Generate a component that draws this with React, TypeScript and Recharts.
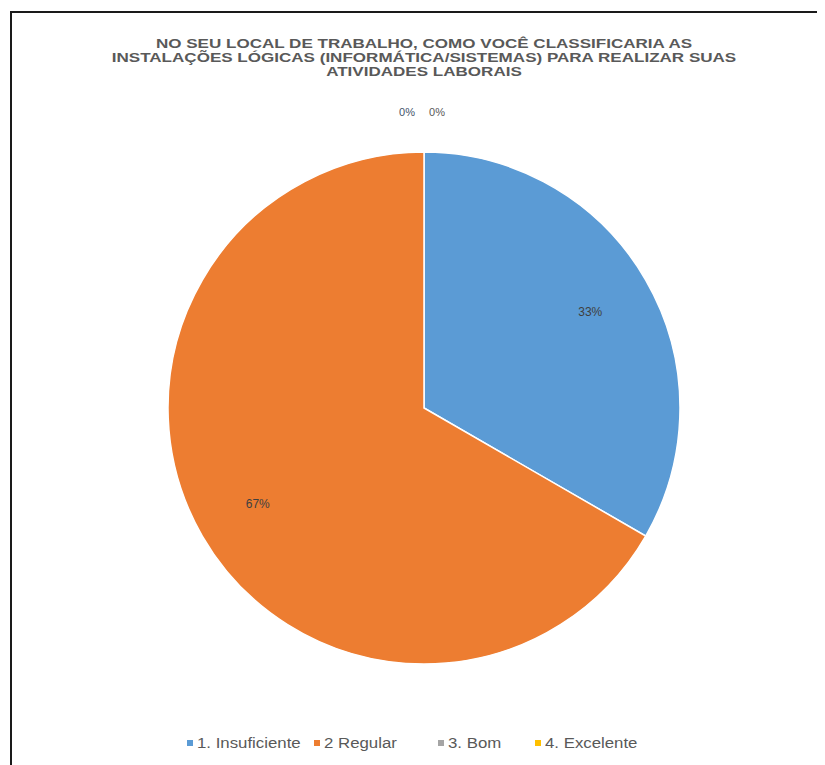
import { PieChart, Pie, Cell, Legend } from "recharts";

// categorias e respostas
const CATEGORIAS = ["1. Insuficiente", "2 Regular", "3. Bom", "4. Excelente"];
const RESPOSTAS = [1, 2, 0, 0];
const CORES = ["#5B9BD5", "#ED7D31", "#A5A5A5", "#FFC000"];
const TITULO = [
  "NO SEU LOCAL DE TRABALHO, COMO VOCÊ CLASSIFICARIA AS",
  "INSTALAÇÕES LÓGICAS (INFORMÁTICA/SISTEMAS) PARA REALIZAR SUAS",
  "ATIVIDADES LABORAIS",
];

const dados = CATEGORIAS.map((name, i) => ({ name, value: RESPOSTAS[i] }));

// largura de cada item da legenda (como no Excel)
const LARGURA_LEGENDA = [127, 124, 97, 112];

const RADIAN = Math.PI / 180;

const renderLabel = (props: any) => {
  const { cx, cy, midAngle, outerRadius, percent, index } = props;
  const txt = `${Math.round(percent * 100)}%`;
  if (percent === 0) {
    // rótulos das fatias vazias ficam acima do topo
    const x = cx + (index === 2 ? -17 : 13);
    const y = cy - outerRadius - 40;
    return (
      <text x={x} y={y} fill={index === 2 ? "#44546A" : "#595959"} fontSize={11} textAnchor="middle" dominantBaseline="central">
        {txt}
      </text>
    );
  }
  const r = outerRadius * 0.75;
  const x = cx + r * Math.cos(-midAngle * RADIAN);
  const y = cy + r * Math.sin(-midAngle * RADIAN);
  return (
    <text x={x} y={y} fill="#404040" fontSize={12} textAnchor="middle" dominantBaseline="central">
      {txt}
    </text>
  );
};

const LegendaCustom = (props: any) => {
  const { payload = [] } = props;
  return (
    <div style={{ display: "flex", justifyContent: "center" }}>
      {payload.map((p: any, i: number) => (
        <div
          key={p.value}
          style={{ width: LARGURA_LEGENDA[i], display: "flex", alignItems: "center", whiteSpace: "nowrap" }}
        >
          <span style={{ width: 6, height: 6, background: p.color, marginRight: 4, flex: "none" }} />
          <span
            style={{
              display: "inline-block",
              color: "#595959",
              fontSize: 14,
              transform: "scaleX(1.2)",
              transformOrigin: "0 50%",
            }}
          >
            {p.value}
          </span>
        </div>
      ))}
    </div>
  );
};

export default function App() {
  return (
    <div
      style={{
        position: "relative",
        width: 817,
        height: 757,
        fontFamily: "'Liberation Sans', Arial, sans-serif",
        background: "#fff",
      }}
    >
      <div
        style={{
          position: "absolute",
          left: 2,
          top: 3,
          right: 0,
          bottom: 0,
          borderTop: "2px solid #1a1a1a",
          borderLeft: "2px solid #1a1a1a",
        }}
      />
      <div
        style={{
          position: "absolute",
          left: 0,
          width: 832,
          top: 29,
          textAlign: "center",
          fontWeight: "bold",
          fontSize: 12,
          lineHeight: "14px",
          color: "#595959",
          transform: "scaleX(1.42)",
          transformOrigin: "416px 0",
        }}
      >
        {TITULO.map((t) => (
          <div key={t}>{t}</div>
        ))}
      </div>
      <PieChart
        width={817}
        height={757}
        margin={{ top: 0, right: 0, bottom: 0, left: 0 }}
        style={{ position: "absolute", left: 0, top: 0 }}
      >
        <Pie
          data={dados}
          dataKey="value"
          nameKey="name"
          cx={416}
          cy={400}
          outerRadius={256}
          startAngle={90}
          endAngle={-270}
          stroke="#fff"
          strokeWidth={1.5}
          labelLine={false}
          label={renderLabel}
          legendType="square"
          isAnimationActive={false}
        >
          {dados.map((d, i) => (
            <Cell key={d.name} fill={CORES[i]} />
          ))}
        </Pie>
        <Legend verticalAlign="bottom" align="center" wrapperStyle={{ bottom: 14 }} content={LegendaCustom} />
      </PieChart>
    </div>
  );
}
